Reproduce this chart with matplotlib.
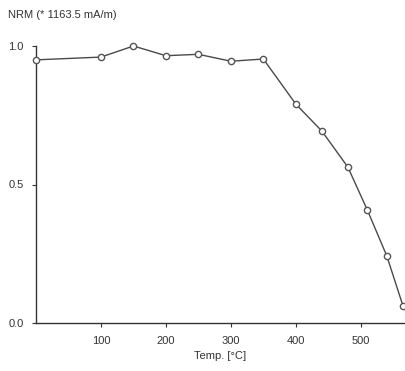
import matplotlib

matplotlib.use("Agg")
import matplotlib.pyplot as plt

temps = [0, 100, 150, 200, 250, 300, 350, 400, 440, 480, 510, 540, 565]
nrm = [0.95, 0.96, 1.0, 0.965, 0.97, 0.945, 0.953, 0.79, 0.693, 0.563, 0.408, 0.242, 0.061]
x_ticks = [100, 200, 300, 400, 500]
y_ticks = [0.0, 0.5, 1.0]

plt.rcParams["font.family"] = ["Liberation Sans", "DejaVu Sans"]
ink = "#333333"

fig = plt.figure(figsize=(4.05, 3.71), dpi=100)
ax = fig.add_axes([36 / 405, 48 / 371, 369 / 405, 277 / 371])
ax.plot(temps, nrm, color="#4a4a4a", linewidth=1.0, marker="o", markersize=4.5,
        markerfacecolor="white", markeredgecolor="#555555", markeredgewidth=1.0,
        clip_on=False, zorder=3)
ax.set_xlim(0, 568)
ax.set_ylim(0, 1.0)
ax.set_xticks(x_ticks)
ax.set_yticks(y_ticks)
ax.set_yticklabels([f"{v:.1f}" for v in y_ticks])
ax.spines[["top", "right"]].set_visible(False)
for side in ("left", "bottom"):
    ax.spines[side].set_color(ink)
    ax.spines[side].set_linewidth(1.0)
ax.tick_params(axis="both", length=3, width=0.8, color=ink, labelsize=8, labelcolor=ink, pad=6)
ax.set_xlabel("Temp. [°C]", fontsize=8, color=ink, labelpad=4)
fig.text(8 / 405, 1 - 15 / 371, "NRM (* 1163.5 mA/m)", fontsize=8, color=ink, va="center")

fig.savefig("out.png", dpi=100, facecolor="white")
